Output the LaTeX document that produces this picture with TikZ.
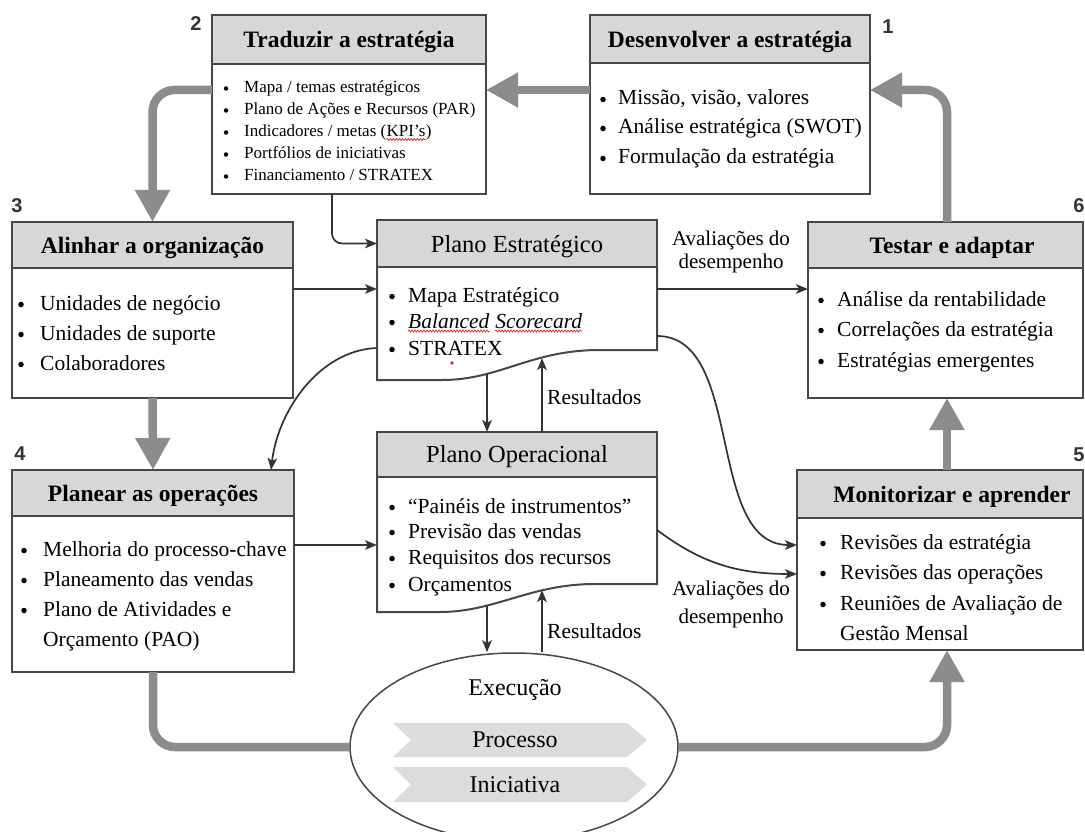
\documentclass[tikz,border=0pt]{standalone}
\usepackage{fontspec}
\setmainfont{Liberation Serif}
\newfontfamily\numfont{Liberation Sans}
\usetikzlibrary{arrows.meta,shapes.geometric,decorations.pathmorphing}

\definecolor{hdrgray}{HTML}{D7D7D7}
\definecolor{frame}{HTML}{474747}
\definecolor{flow}{HTML}{8C8C8C}
\definecolor{ink}{HTML}{333333}
\definecolor{band}{HTML}{DCDCDC}
\definecolor{spellred}{HTML}{E02424}

% bullet + text on one baseline: name, text style, dot style, dot centre x, text x, baseline y, text
\newcommand\bitem[7]{%
  \node[#3] (#1b) at (#4,#6) {};
  \node[#2] (#1) at (#5,#6) {#7};}

\begin{document}
\begin{tikzpicture}[x=1pt,y=-1pt,
  hdbox/.style={draw=frame,line width=2pt,fill=hdrgray,anchor=north west,inner sep=0,outer sep=0},
  bodybox/.style={draw=frame,line width=2pt,fill=white,anchor=north west,inner sep=0,outer sep=0},
  anchorbox/.style={anchor=north west,inner sep=0,outer sep=0},
  outline/.style={draw=frame,line width=2pt},
  ttl/.style={anchor=base,inner sep=0,font=\fontsize{23.5}{25}\selectfont\bfseries},
  ptl/.style={anchor=base,inner sep=0,font=\fontsize{24.5}{26}\selectfont},
  etl/.style={anchor=base,inner sep=0,font=\fontsize{24}{26}\selectfont},
  itm/.style={anchor=base west,inner sep=0,font=\fontsize{21.5}{24}\selectfont},
  itmi/.style={anchor=base west,inner sep=0,font=\fontsize{21.5}{24}\selectfont\itshape},
  sitm/.style={anchor=base west,inner sep=0,font=\fontsize{17}{19}\selectfont},
  dot/.style={circle,fill=black,inner sep=0,minimum size=5.5pt,yshift=5.5pt},
  sdot/.style={circle,fill=black,inner sep=0,minimum size=4.5pt,yshift=4.5pt},
  stagenum/.style={anchor=base,inner sep=0,text=ink,font=\fontsize{20}{24}\selectfont\numfont\bfseries},
  lbl/.style={align=center,inner sep=0,font=\fontsize{21}{23}\selectfont},
  flowline/.style={draw=flow,line width=8.5pt,rounded corners=22pt},
  flowarrow/.style={flowline,-{Triangle[length=32pt,width=33pt]}},
  link/.style={draw=ink,line width=1.7pt,-{Stealth[length=12pt,width=9.5pt,inset=3pt]}},
  spell/.style={draw=spellred,line width=0.7pt,decorate,decoration={snake,amplitude=1pt,segment length=3pt}},
]
\fill[white] (0,0) rectangle (1085,832);
\useasboundingbox (0,0) rectangle (1085,832);

% ---------- stage boxes ----------
\node[bodybox,minimum width=280pt,minimum height=131pt] (b1) at (590,63) {};
\node[hdbox,minimum width=280pt,minimum height=48pt] (b1h) at (590,15) {};
\node[bodybox,minimum width=274pt,minimum height=130pt] (b2) at (212,64) {};
\node[hdbox,minimum width=274pt,minimum height=49pt] (b2h) at (212,15) {};
\node[bodybox,minimum width=281pt,minimum height=130pt] (b3) at (12,268) {};
\node[hdbox,minimum width=281pt,minimum height=46pt] (b3h) at (12,222) {};
\node[bodybox,minimum width=282pt,minimum height=156pt] (b4) at (12,516) {};
\node[hdbox,minimum width=282pt,minimum height=46pt] (b4h) at (12,470) {};
\node[bodybox,minimum width=286pt,minimum height=132pt] (b5) at (797,518) {};
\node[hdbox,minimum width=286pt,minimum height=48pt] (b5h) at (797,470) {};
\node[bodybox,minimum width=275pt,minimum height=130pt] (b6) at (808,268) {};
\node[hdbox,minimum width=275pt,minimum height=46pt] (b6h) at (808,222) {};

% ---------- plans with a wavy lower edge ----------
\node[anchorbox,minimum width=280pt,minimum height=113pt] (pe) at (377,267) {};
\draw[outline] (377,267) -- (377,380) -- (442,380)
  .. controls (500,380) and (530,350) .. (600,350) -- (657,350) -- (657,267);
\node[hdbox,minimum width=280pt,minimum height=47pt] (peh) at (377,220) {};
\node[anchorbox,minimum width=280pt,minimum height=135pt] (po) at (377,477) {};
\draw[outline] (377,477) -- (377,612) -- (440,612)
  .. controls (495,612) and (530,584) .. (595,584) -- (657,584) -- (657,477);
\node[hdbox,minimum width=280pt,minimum height=45pt] (poh) at (377,432) {};

% ---------- execution ellipse ----------
\node[draw=frame,line width=1.5pt,ellipse,minimum width=328pt,minimum height=188pt,inner sep=0] (ex) at (514,747) {};
\fill[band] (393,723) -- (627,723) -- (647,740) -- (627,757) -- (393,757) -- (411,740) -- cycle;
\fill[band] (393,767) -- (627,767) -- (647,784.5) -- (627,802) -- (393,802) -- (411,784.5) -- cycle;
\node[etl] (exec) at (515,695) {Execução};
\node[etl] (proc) at (515,747) {Processo};
\node[etl] (inic) at (515,792) {Iniciativa};

% ---------- titles ----------
\node[ttl] (t1) at (730,47.5) {Desenvolver a estratégia};
\node[ttl] (t2) at (349,47.5) {Traduzir a estratégia};
\node[ttl] (t3) at (152.5,253.5) {Alinhar a organização};
\node[ttl] (t4) at (153,501.5) {Planear as operações};
\node[ttl] (t5) at (952,502.5) {Monitorizar e aprender};
\node[ttl] (t6) at (952,253.5) {Testar e adaptar};
\node[ptl] (tpe) at (517,252) {Plano Estratégico};
\node[ptl] (tpo) at (517,462) {Plano Operacional};

% ---------- stage numbers ----------
\node[stagenum] (n1) at (888,34) {1};
\node[stagenum] (n2) at (196,31) {2};
\node[stagenum] (n3) at (17,212) {3};
\node[stagenum] (n4) at (20,460) {4};
\node[stagenum] (n5) at (1079,461) {5};
\node[stagenum] (n6) at (1079,212) {6};

% ---------- box contents ----------
\bitem{i11}{itm}{dot}{603}{618}{105}{Missão, visão, valores}
\bitem{i12}{itm}{dot}{603}{618}{134}{Análise estratégica (SWOT)}
\bitem{i13}{itm}{dot}{603}{618}{164}{Formulação da estratégia}

\bitem{i21}{sitm}{sdot}{226}{244}{93}{Mapa / temas estratégicos}
\bitem{i22}{sitm}{sdot}{226}{244}{115}{Plano de Ações e Recursos (PAR)}
\node[sdot] (i23b) at (226,137) {};
\node[sitm] (i23) at (244,137) {Indicadores / metas (};
\node[sitm] (kpi) at (i23.base east) {KPI’s};
\node[sitm] (i23e) at (kpi.base east) {)};
\bitem{i24}{sitm}{sdot}{226}{244}{159}{Portfólios de iniciativas}
\bitem{i25}{sitm}{sdot}{226}{244}{181}{Financiamento / STRATEX}

\bitem{i31}{itm}{dot}{21}{40}{310}{Unidades de negócio}
\bitem{i32}{itm}{dot}{21}{40}{340}{Unidades de suporte}
\bitem{i33}{itm}{dot}{21}{40}{370}{Colaboradores}

\bitem{i41}{itm}{dot}{24}{43}{556}{Melhoria do processo-chave}
\bitem{i42}{itm}{dot}{24}{43}{586}{Planeamento das vendas}
\bitem{i43}{itm}{dot}{24}{43}{616}{Plano de Atividades e}
\node[itm] (i43c) at (43,646) {Orçamento (PAO)};

\bitem{i51}{itm}{dot}{823}{840}{549}{Revisões da estratégia}
\bitem{i52}{itm}{dot}{823}{840}{579}{Revisões das operações}
\bitem{i53}{itm}{dot}{823}{840}{610}{Reuniões de Avaliação de}
\node[itm] (i53c) at (840,640) {Gestão Mensal};

\bitem{i61}{itm}{dot}{821}{837}{306}{Análise da rentabilidade}
\bitem{i62}{itm}{dot}{821}{837}{336}{Correlações da estratégia}
\bitem{i63}{itm}{dot}{821}{837}{367}{Estratégias emergentes}

\bitem{ip1}{itm}{dot}{392}{408}{302}{Mapa Estratégico}
\node[dot] (ip2b) at (392,328) {};
\node[itmi] (bal) at (408,328) {Balanced};
\node[itmi] (sco) at ([xshift=5.5pt]bal.base east) {Scorecard};
\bitem{ip3}{itm}{dot}{392}{408}{355}{STRATEX}

\bitem{io1}{itm}{dot}{392}{408}{513}{“Painéis de instrumentos”}
\bitem{io2}{itm}{dot}{392}{408}{538}{Previsão das vendas}
\bitem{io3}{itm}{dot}{392}{408}{564}{Requisitos dos recursos}
\bitem{io4}{itm}{dot}{392}{408}{591}{Orçamentos}

% spelling marks under the text
\draw[spell] ([yshift=-2.5pt]kpi.base west) -- ([yshift=-2.5pt]kpi.base east);
\draw[spell] ([yshift=-3pt]bal.base west) -- ([yshift=-3pt]bal.base east);
\draw[spell] ([yshift=-3pt]sco.base west) -- ([yshift=-3pt]sco.base east);
\fill[spellred] (452,363) circle (1.8);

% ---------- reference lines for connectors ----------
\coordinate (rowA) at (0,90);
\coordinate (rowB) at (0,289);
\coordinate (rowC) at (0,545);
\coordinate (rowD) at (0,574);
\coordinate (colR) at (947,0);
\coordinate (colM) at (332,0);
\coordinate (colD) at (487,0);
\coordinate (colU) at (542,0);
\coordinate (colK) at (271,0);
\coordinate (peD) at (487,374);
\coordinate (peU) at (542,358);
\coordinate (poD) at (487,606);
\coordinate (poU) at (542,590);
\coordinate (peL) at (377,348);
\coordinate (peR) at (657,336);
\coordinate (poR) at (657,530);

% ---------- main cycle (thick grey) ----------
\draw[flowarrow] (b1.west |- rowA) -- (b2.east |- rowA);
\draw[flowarrow] (b2.west |- rowA) -| (b3h.north);
\draw[flowarrow] (b3.south) -- (b4h.north);
\draw[flowline] (b4.south) |- (ex.west);
\draw[flowarrow] (ex.east) -| (colR |- b5.south);
\draw[flowarrow] (colR |- b5h.north) -- (colR |- b6.south);
\draw[flowarrow] (colR |- b6h.north) |- (b1.east |- rowA);

% ---------- information links ----------
\draw[link,rounded corners=10pt] (colM |- b2.south) |- (peh.west);
\draw[link] (b3.east |- rowB) -- (pe.west |- rowB);
\draw[link] (pe.east |- rowB) -- (b6.west |- rowB);
\draw[link] (b4.east |- rowC) -- (po.west |- rowC);
\draw[link] (peD) -- (colD |- poh.north);
\draw[link] (colU |- poh.north) -- (peU);
\draw[link] (poD) -- (colD |- ex.north);
\draw[link] (colU |- ex.north) -- (poU);
\draw[link] (peL) .. controls (320,350) and (278,410) .. (colK |- b4h.north);
\draw[link] (peR) .. controls (745,336) and (705,545) .. (b5.west |- rowC);
\draw[link] (poR) .. controls (700,562) and (735,574) .. (b5.west |- rowD);

% ---------- link labels ----------
\node[lbl] (ev1) at (731,252) {Avaliações do\\desempenho};
\node[lbl,font=\fontsize{21}{28}\selectfont] (ev2) at (731,604) {Avaliações do\\desempenho};
\node[itm] (res1) at (547,404) {Resultados};
\node[itm] (res2) at (547,638) {Resultados};
\end{tikzpicture}
\end{document}
